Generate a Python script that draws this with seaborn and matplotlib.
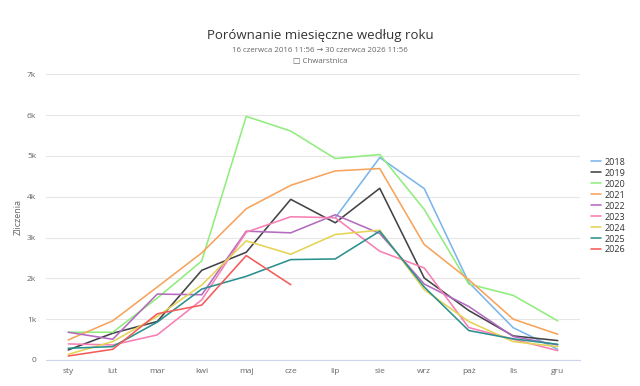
import numpy as np
import pandas as pd
import matplotlib
matplotlib.use("Agg")
import matplotlib.pyplot as plt
import seaborn as sns

months = ["sty", "lut", "mar", "kwi", "maj", "cze", "lip", "sie", "wrz", "paż", "lis", "gru"]
years = ["2018", "2019", "2020", "2021", "2022", "2023", "2024", "2025", "2026"]
nan = np.nan
v2018 = [nan, nan, nan, nan, nan, nan, 3485, 4960, 4200, 1900, 790, 262]
v2019 = [246, 656, 943, 2198, 2640, 3936, 3362, 4207, 2009, 1214, 590, 476]
v2020 = [680, 680, 1517, 2427, 5970, 5609, 4936, 5035, 3690, 1861, 1583, 959]
v2021 = [492, 960, 1788, 2624, 3706, 4280, 4633, 4690, 2829, 1968, 1000, 631]
v2022 = [680, 508, 1615, 1599, 3157, 3116, 3559, 3100, 1861, 1312, 574, 369]
v2023 = [394, 369, 615, 1476, 3132, 3510, 3485, 2665, 2255, 795, 508, 230]
v2024 = [139, 451, 1066, 1837, 2919, 2591, 3075, 3182, 1722, 943, 451, 328]
v2025 = [287, 328, 927, 1738, 2050, 2460, 2476, 3157, 1788, 722, 517, 385]
v2026 = [98, 262, 1132, 1345, 2558, 1845, nan, nan, nan, nan, nan, nan]
series = [v2018, v2019, v2020, v2021, v2022, v2023, v2024, v2025, v2026]
colors = ["#7cb5ec", "#434348", "#90ed7d", "#f7a35c", "#b36bbf", "#f77fb3", "#e4d354", "#2b908f", "#f45b5b"]

rows = []
for y, vals in zip(years, series):
    for i, v in enumerate(vals):
        rows.append({"rok": y, "m": i, "val": v})
df = pd.DataFrame(rows).dropna()

sns.set_theme(style="white")
plt.rcParams["font.family"] = ["Open Sans", "DejaVu Sans"]

fig = plt.figure(figsize=(6.4, 3.86), dpi=100)
ax = fig.add_axes([46 / 640, 1 - 360 / 386, (580 - 46) / 640, (360 - 74.3) / 386])

sns.lineplot(data=df, x="m", y="val", hue="rok", hue_order=years,
             palette=dict(zip(years, colors)), linewidth=1.15, ax=ax, legend=True)

ax.set_xlim(-0.5, 11.5)
ax.set_ylim(0, 7000)
ax.set_yticks(range(0, 7001, 1000))
ax.set_yticklabels(["0"] + [f"{k}k" for k in range(1, 8)])
ax.yaxis.grid(True, color="#e6e6e6", linewidth=0.8)
ax.set_axisbelow(True)
ax.set_xticks(range(12))
ax.set_xticklabels(months)
ax.set_xticks(np.arange(-0.5, 12, 1), minor=True)
ax.tick_params(axis="x", which="major", length=0, labelsize=6, colors="#666666", pad=6)
ax.tick_params(axis="x", which="minor", length=5, color="#ccd6eb", width=0.8)
ax.tick_params(axis="y", length=0, labelsize=6, colors="#666666", pad=7)
for s in ["top", "right", "left"]:
    ax.spines[s].set_visible(False)
ax.spines["bottom"].set_color("#ccd6eb")
ax.spines["bottom"].set_linewidth(0.8)
ax.set_xlabel("")
ax.set_ylabel("Zliczenia", fontsize=6.5, color="#666666", labelpad=3)

leg = ax.legend(loc="upper left", bbox_to_anchor=(587 / 640, 1 - 154 / 386), bbox_transform=fig.transFigure,
                frameon=False, fontsize=6.5, handlelength=1.1, handletextpad=0.5, labelspacing=0.22,
                borderaxespad=0)
for t in leg.get_texts():
    t.set_color("#333333")

fig.text(0.5, 1 - 35 / 386, "Porównanie miesięczne według roku", ha="center", va="center",
         fontsize=9.5, color="#333333")
fig.text(0.5, 1 - 51 / 386, "16 czerwca 2016 11:56 → 30 czerwca 2026 11:56", ha="center", va="center",
         fontsize=5.7, color="#666666")
fig.text(0.5, 1 - 62 / 386, "□ Chwarstnica", ha="center", va="center",
         fontsize=5.7, color="#666666")

fig.savefig("out.png", dpi=100, facecolor="white")
